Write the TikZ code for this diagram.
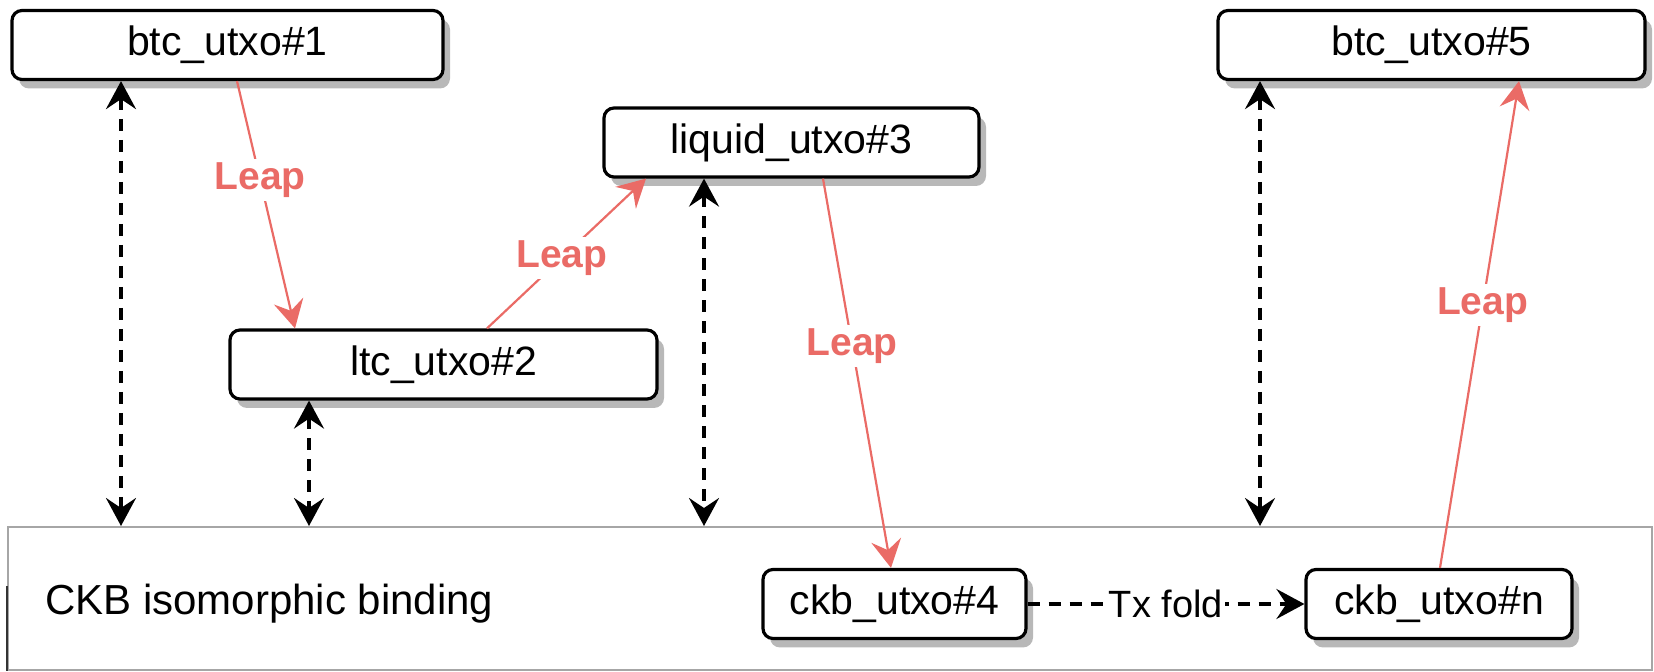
\documentclass[tikz,border=0pt]{standalone}
\usepackage{fontspec}
\setmainfont{Liberation Sans}
\usetikzlibrary{arrows.meta,shadows,positioning}
\definecolor{leapred}{RGB}{234,107,102}

\begin{document}
\begin{tikzpicture}[x=0.5pt,y=-0.5pt,
	utxo tip/.tip={Stealth[length=14pt,width=15pt,inset=5pt]},
	utxo node/.style={draw,rounded corners=5pt,line width=1.6pt,fill=white,inner sep=0pt,
		minimum height=34.5pt,font=\fontsize{20.5}{24}\selectfont,
		drop shadow={shadow xshift=3.5pt,shadow yshift=-4.5pt,fill=black!28,opacity=1}},
	leap/.style={-utxo tip,draw=leapred,fill=leapred,line width=1.1pt},
	bind/.style={utxo tip-utxo tip,line width=1.7pt,dash pattern=on 6pt off 4.5pt},
	fold/.style={-utxo tip,line width=1.7pt,dash pattern=on 6pt off 4.5pt},
	leap label/.style={fill=white,text=leapred,font=\fontsize{19.5}{23}\selectfont\bfseries,inner sep=2pt}]

	\useasboundingbox (0,0) rectangle (1654,672);

	% lane
	\node[draw=black!35,line width=1pt,minimum width=822pt,minimum height=71.5pt,inner sep=0pt] (lane) at (830,598.5) {};
	\draw[black!80,line width=1pt] (lane.south west) -- ([yshift=-30pt]lane.north west);
	\node[anchor=west,font=\fontsize{21}{25}\selectfont] (lanename) at (38,604) {CKB isomorphic binding};

	\node[utxo node,minimum width=215.5pt] (btc1) at (227.5,45) {btc\_utxo\#1};
	\node[utxo node,minimum width=213.5pt] (btc5) at (1431.5,45) {btc\_utxo\#5};
	\node[utxo node,minimum width=187.5pt] (liquid3) at (791.5,142.5) {liquid\_utxo\#3};
	\node[utxo node,minimum width=213.5pt] (ltc2) at (443.5,364.5) {ltc\_utxo\#2};
	\node[utxo node,minimum width=131.5pt] (ckb4) at (894.5,604) {ckb\_utxo\#4};
	\node[utxo node,minimum width=133pt] (ckbn) at (1439,604) {ckb\_utxo\#n};

	\coordinate (t1) at ([xshift=-53.25pt]btc1.south);
	\coordinate (t2) at ([xshift=-67.25pt]ltc2.south);
	\coordinate (t3) at ([xshift=-43.75pt]liquid3.south);
	\coordinate (t5) at ([xshift=-85.75pt]btc5.south);

	\draw[bind] (t1) -- (t1 |- lane.north);
	\draw[bind] (t2) -- (t2 |- lane.north);
	\draw[bind] (t3) -- (t3 |- lane.north);
	\draw[bind] (t5) -- (t5 |- lane.north);

	\path[every node/.style={leap label}]
	([xshift=4.75pt]btc1.south) edge[leap] node[pos=0.4] {Leap} ([xshift=-74.25pt]ltc2.north)
	([xshift=21.75pt]ltc2.north) edge[leap] node[pos=0.47] {Leap} ([xshift=-72.75pt]liquid3.south)
	([xshift=15.75pt]liquid3.south) edge[leap] node[pos=0.43] {Leap} ([xshift=-1.75pt]ckb4.north)
	([xshift=0.5pt]ckbn.north) edge[leap] node[pos=0.54] {Leap} ([xshift=43.75pt]btc5.south)
;
	\path (ckb4) edge[fold] node[fill=white,inner sep=1pt,font=\fontsize{19}{23}\selectfont] {Tx fold} (ckbn);
\end{tikzpicture}
\end{document}
